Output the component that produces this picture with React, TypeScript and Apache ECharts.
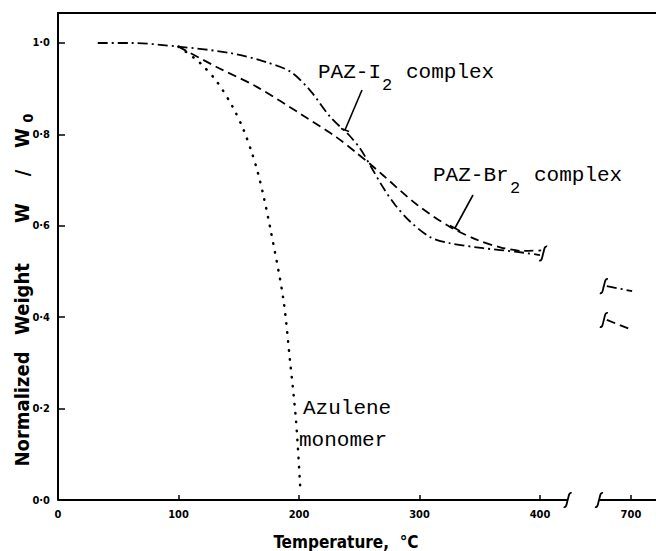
import React, { useEffect, useRef } from "react";
import * as echarts from "echarts";

// ---- data (temperature in °C, normalized weight W/W0) ----
const azuleneT = [100, 104, 118, 132, 145, 154, 161, 166, 170, 176, 187, 192.5, 197.5, 201];
const azuleneW = [0.992, 0.985, 0.956, 0.915, 0.86, 0.81, 0.759, 0.715, 0.672, 0.597, 0.44, 0.306, 0.175, 0.03];

const pazIT = [33, 60, 100, 143, 173, 193, 209, 226, 242, 251, 260, 270, 280, 292, 309, 325, 353, 381, 400];
const pazIW = [1.0, 1.0, 0.992, 0.978, 0.958, 0.937, 0.897, 0.838, 0.797, 0.768, 0.728, 0.683, 0.645, 0.61, 0.575, 0.562, 0.551, 0.543, 0.536];
const pazIRightT = [680, 701];
const pazIRightW = [0.468, 0.457];

const pazBrT = [100, 132, 165, 203, 231, 248, 260, 270, 298, 325, 348, 367, 386, 401];
const pazBrW = [0.992, 0.947, 0.904, 0.842, 0.794, 0.759, 0.733, 0.71, 0.646, 0.598, 0.569, 0.553, 0.545, 0.546];
const pazBrRightT = [680, 701];
const pazBrRightW = [0.394, 0.372];

const xTickTemps = [0, 100, 200, 300, 400, 700];
const yTicks = [0, 0.2, 0.4, 0.6, 0.8, 1.0];

// broken temperature axis: values above the break are shifted left
const BREAK_SHIFT = 224.5;
const toDisplay = (t: number) => (t <= 450 ? t : t - BREAK_SHIFT);
const X_MAX = 496.3;
const Y_MAX = 1.0656;
const axisBreaks = [423, 449]; // display units where the axis line is cut

const BRK_PATH = "M -4 7 C -1 8 -1 3 0 0 C 1 -3 1 -8 4 -7";
echarts.graphic.registerShape("brk", echarts.graphic.extendPath(BRK_PATH, {}));

const COND = '"DejaVu Sans Condensed", "DejaVu Sans", sans-serif';
const MONO = '"Liberation Mono", "DejaVu Sans Mono", monospace';

const pts = (ts: number[], ws: number[]) => ts.map((t, i) => [toDisplay(t), ws[i]]);

export default function App() {
  const ref = useRef<HTMLDivElement>(null);
  useEffect(() => {
    document.body.style.margin = "0";
    const chart = echarts.init(ref.current!, undefined, { renderer: "svg" });
    const xTickDisp = xTickTemps.map(toDisplay);
    const dotDash = [10, 4, 2, 4];
    const dash = [9, 5];
    const black = "#000";
    const curve = (name: string, data: number[][], type: any, width = 1.8, cap = "butt") => ({
      name,
      type: "line",
      data,
      showSymbol: false,
      smooth: 0.3,
      clip: false,
      lineStyle: { color: black, width, type, cap },
    });
    chart.setOption({
      animation: false,
      grid: { left: 58, right: 0, top: 13, bottom: 51 },
      xAxis: [
        {
          type: "value",
          min: 0,
          max: X_MAX,
          axisLine: { show: false },
          splitLine: { show: false },
          axisTick: {
            show: true,
            inside: true,
            length: 5,
            customValues: xTickDisp,
            lineStyle: { color: black, width: 1.5 },
          },
          axisLabel: {
            customValues: xTickDisp,
            formatter: (v: number) => {
              const i = xTickDisp.findIndex((d) => Math.abs(d - v) < 0.5);
              return i >= 0 ? String(xTickTemps[i]) : "";
            },
            margin: 9,
            color: black,
            fontFamily: COND,
            fontWeight: "bold",
            fontSize: 11,
          },
        },
        {
          type: "value",
          position: "top",
          min: 0,
          max: X_MAX,
          axisLine: { show: true, onZero: false, lineStyle: { color: black, width: 2 } },
          axisTick: { show: false },
          axisLabel: { show: false },
          splitLine: { show: false },
        },
      ],
      yAxis: {
        type: "value",
        min: 0,
        max: Y_MAX,
        axisLine: { show: true, onZero: false, lineStyle: { color: black, width: 2 } },
        axisTick: { show: true, inside: true, length: 7, customValues: yTicks, lineStyle: { color: black, width: 1.5 } },
        axisLabel: {
          customValues: yTicks,
          formatter: (v: number) => v.toFixed(1).replace(".", "·"),
          margin: 8,
          color: black,
          fontFamily: COND,
          fontWeight: "bold",
          fontSize: 11,
        },
        splitLine: { show: false },
      },
      series: [
        curve("Azulene monomer", pts(azuleneT, azuleneW), [0.5, 8.5], 2.5, "round"),
        curve("PAZ-I2 complex", pts(pazIT, pazIW), dotDash),
        curve("PAZ-I2 complex 700", pts(pazIRightT, pazIRightW), dotDash),
        curve("PAZ-Br2 complex", pts(pazBrT, pazBrW), dash),
        curve("PAZ-Br2 complex 700", pts(pazBrRightT, pazBrRightW), dash),
        {
          type: "line",
          data: [[0, 0], [axisBreaks[0], 0]],
          showSymbol: false,
          clip: false,
          lineStyle: { color: black, width: 2 },
        },
        {
          type: "line",
          data: [[axisBreaks[1], 0], [X_MAX, 0]],
          showSymbol: false,
          clip: false,
          lineStyle: { color: black, width: 2 },
        },
      ],
    });

    const px = (d: number, w: number) => chart.convertToPixel({ seriesIndex: 0 }, [d, w]) as number[];
    const brk = (p: number[], dx = 0, dy = 0) => ({
      type: "brk",
      x: p[0] + dx,
      y: p[1] + dy,
      style: { stroke: black, fill: "none", lineWidth: 1.8 },
    });
    const txt = (x: number, y: number, text: string, font: string, extra: any = {}) => ({
      type: "text",
      x,
      y,
      style: {
        text,
        font,
        fill: black,
        align: "left",
        verticalAlign: "middle",
        textAlign: "left",
        textVerticalAlign: "middle",
        ...extra,
      },
    });
    const line = (x1: number, y1: number, x2: number, y2: number) => ({
      type: "line",
      shape: { x1, y1, x2, y2 },
      style: { stroke: black, lineWidth: 1.6 },
    });
    const lastBr = pazBrT.length - 1;
    const mono = `21px ${MONO}`;
    const sub = `17px ${MONO}`;
    const center = { align: "center", textAlign: "center" };
    const yFont = `bold 20px ${COND}`;
    chart.setOption({
      graphic: [
        brk(px(axisBreaks[0], 0)),
        brk(px(axisBreaks[1], 0)),
        brk(px(toDisplay(pazBrT[lastBr]), pazBrW[lastBr]), 2, 3),
        brk(px(toDisplay(pazIRightT[0]), pazIRightW[0]), -3, 0),
        brk(px(toDisplay(pazBrRightT[0]), pazBrRightW[0]), -3, 0),
        // annotations
        txt(318, 72, "PAZ-I", mono),
        txt(382, 85, "2", sub),
        txt(406, 72, "complex", mono),
        line(362, 90, 345, 130),
        line(341, 128.5, 349, 131.5),
        txt(433, 175, "PAZ-Br", mono),
        txt(510, 188, "2", sub),
        txt(534, 175, "complex", mono),
        line(473, 195, 455, 228),
        line(450, 225.5, 460, 231),
        txt(303, 408, "Azulene", mono),
        txt(299, 440, "monomer", mono),
        // axis titles
        txt(346, 542, "Temperature,  °C", `bold 17px ${COND}`, center),
        {
          type: "group",
          x: 22,
          y: 283,
          rotation: Math.PI / 2,
          children: [
            txt(-126, 0, "Normalized", yFont, center),
            txt(-16, 0, "Weight", yFont, center),
            txt(70, 0, "W", yFont, center),
            txt(110, 0, "/", yFont, center),
            txt(145, 0, "W", yFont, center),
            txt(165, 6, "0", `bold 14px ${COND}`, center),
          ],
        },
      ],
    });
    return () => chart.dispose();
  }, []);
  return (
    <div
      ref={ref}
      style={{ position: "absolute", left: 0, top: 0, width: 656, height: 551 }}
    />
  );
}
